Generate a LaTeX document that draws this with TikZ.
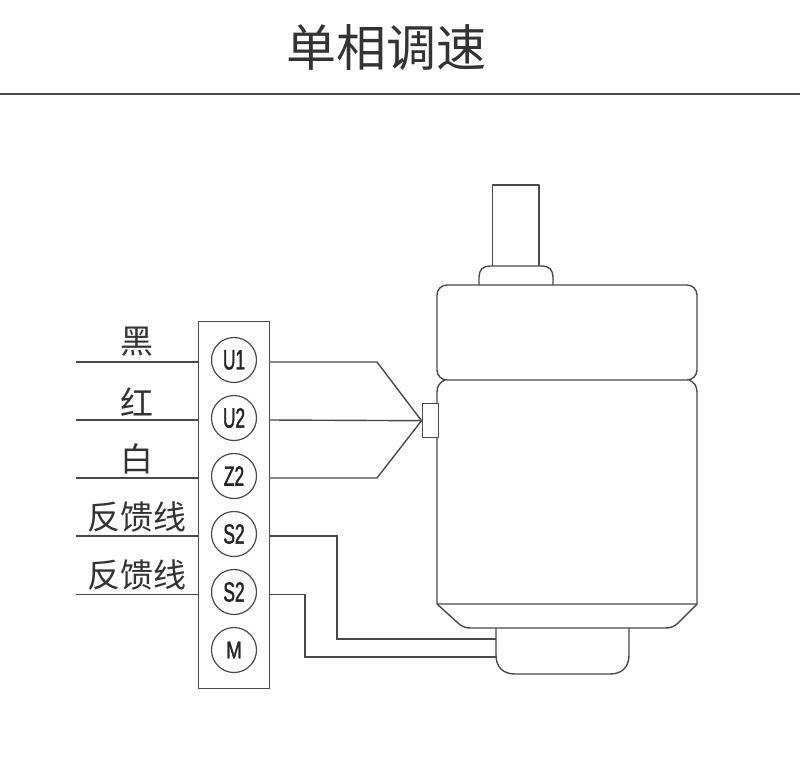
\documentclass[tikz,border=0pt]{standalone}
\usepackage{fontspec}
\setmainfont{Liberation Sans}
\newfontfamily\cjk{Noto Sans CJK SC}
\newfontfamily\termfont[FakeStretch=0.62,FakeBold=1.5]{Liberation Sans}
\newfontfamily\termfontm[FakeStretch=0.78,FakeBold=1.5]{Liberation Sans}
\definecolor{ink}{HTML}{4A4A4A}
\tikzset{
  wire/.style={draw=ink,line width=1.4pt,line join=miter},
  part/.style={draw=ink,line width=1.4pt,line join=round},
  terminal/.style={circle,draw=ink,line width=1.2pt,minimum size=45pt,inner sep=0pt,text=black!85,font=\termfont\fontsize{28}{28}\selectfont},
  colour/.style={inner sep=0pt,text=black!80,font=\cjk\fontsize{33}{33}\selectfont},
  heading/.style={inner sep=0pt,text=black!80,font=\cjk\fontsize{50}{50}\selectfont}
}
\begin{document}
\begin{tikzpicture}[x=1pt,y=-1pt]
\useasboundingbox (0,0) rectangle (800,770);
\fill[white] (0,0) rectangle (800,770);
\node[heading] (title) at (386.5,47) {单相调速};
\coordinate (ruleL) at (0,94);
\coordinate (ruleR) at (800,94);
\draw[draw=ink,line width=1.4pt] (ruleL) -- (ruleR);

% terminal block
\node[part,minimum width=71pt,minimum height=366.5pt,inner sep=0pt,anchor=north west] (block) at (198,321) {};
\node[terminal] (u1) at (234,360) {U1};
\node[terminal] (u2) at (234,418) {U2};
\node[terminal] (z2) at (234,476) {Z2};
\node[terminal] (s2a) at (234,534) {S2};
\node[terminal] (s2b) at (234,592) {S2};
\node[terminal,font=\termfontm\fontsize{24}{24}\selectfont] (m) at (234,650) {M};

% labels
\node[colour] (lblack) at (137,342) {黑};
\node[colour] (lred) at (137,402) {红};
\node[colour] (lwhite) at (137,459) {白};
\node[colour] (lfb1) at (137,517) {反馈线};
\node[colour] (lfb2) at (137,575) {反馈线};

% wire ends
\foreach \n/\y in {a/362,b/420,c/478,d/536,e/594.5}{
  \coordinate (in\n) at (76,\y);
  \coordinate (bl\n) at (198,\y);
  \coordinate (br\n) at (269,\y);
}
\foreach \n in {a,b,c,d,e}{\draw[wire] (in\n) -- (bl\n);}

% motor
\draw[part,fill=white] (492.5,266) -- (492.5,185) -- (539,185) -- (539,266);
\draw[part] (479,285) -- (479,277) .. controls (479,270) and (483,266) .. (490,266) -- (542,266) .. controls (549,266) and (553,270) .. (553,277) -- (553,285);
\draw[part,rounded corners=10pt] (437,285) rectangle (697,380);
\draw[part] (445,380) .. controls (440,382) and (437,386) .. (437,392) -- (437,604) -- (697,604) -- (697,392) .. controls (697,386) and (694,382) .. (689,380);
\draw[part] (437,604) -- (458,623) .. controls (462,627) and (466,628) .. (471,628) -- (665,628) .. controls (670,628) and (674,627) .. (678,623) -- (697,604);
\draw[part] (496,628) -- (496,655) .. controls (496,667) and (503,674) .. (515,674) -- (610,674) .. controls (622,674) and (629,667) .. (629,655) -- (629,628);
\node[part,fill=white,minimum width=16.5pt,minimum height=34pt,inner sep=0pt,anchor=north west] (plug) at (421.5,403) {};

% connectors
\coordinate (apex) at (plug.west);
\coordinate (up) at (377,362);
\coordinate (low) at (377,478);
\draw[wire] (bra) -- (up) -- (apex);
\draw[wire] (brb) -- (apex);
\draw[wire] (brc) -- (low) -- (apex);
\coordinate (fb1a) at (337,536);
\coordinate (fb1b) at (337,639);
\coordinate (fb1c) at (496,639);
\coordinate (fb2a) at (305,594.5);
\coordinate (fb2b) at (305,657);
\coordinate (fb2c) at (496,657);
\draw[wire] (brd) -- (fb1a) -- (fb1b) -- (fb1c);
\draw[wire] (bre) -- (fb2a) -- (fb2b) -- (fb2c);
\end{tikzpicture}
\end{document}
